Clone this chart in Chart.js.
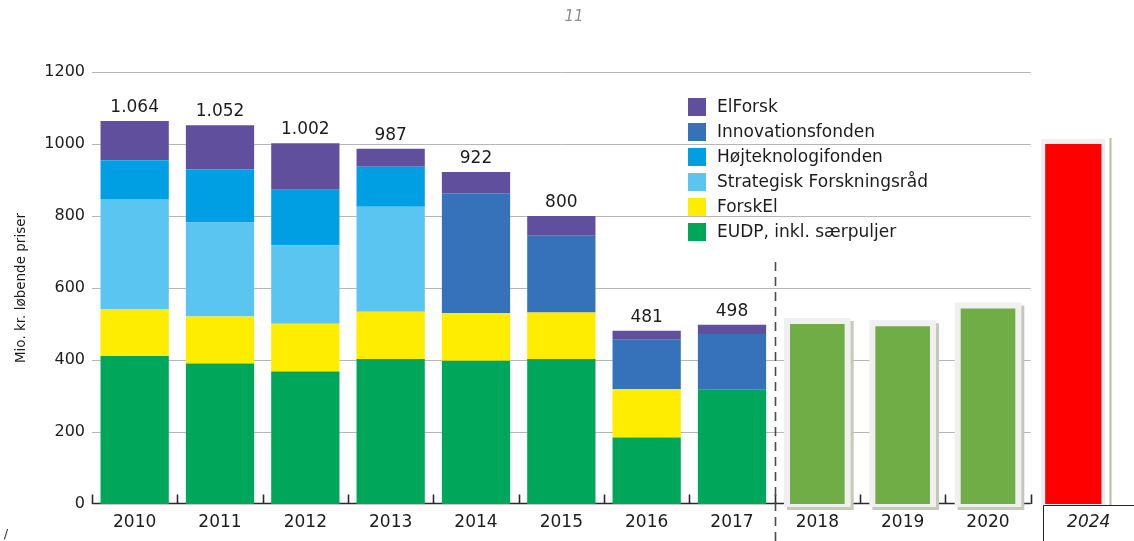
<!DOCTYPE html>
<html>
<head>
<meta charset="utf-8">
<script src="https://cdn.jsdelivr.net/npm/chart.js@4.4.1/dist/chart.umd.min.js"></script>
<style>
html,body{margin:0;padding:0;background:#fff;}
#wrap{position:relative;width:1134px;height:541px;}
canvas{display:block;}
</style>
</head>
<body>
<div id="wrap"><canvas id="c" width="1134" height="541"></canvas></div>
<script>
// ---- data ----
const years = ['2010','2011','2012','2013','2014','2015','2016','2017','2018','2019','2020','2024'];
const eudp        = [411, 390, 368, 403, 398, 403, 185, 319, null, null, null, null];
const forskEl     = [131, 131, 133, 131, 132, 129, 134, null, null, null, null, null];
const strategisk  = [305, 261, 218, 292, null, null, null, null, null, null, null, null];
const hoejtek     = [108, 148, 154, 111, null, null, null, null, null, null, null, null];
const innovation  = [null, null, null, null, 333, 213, 137, 153, null, null, null, null];
const elForsk     = [109, 122, 129, 50, 59, 55, 25, 26, null, null, null, null];
const prognosis   = [null, null, null, null, null, null, null, null, 500, 494, 543, null];
const target2024  = [null, null, null, null, null, null, null, null, null, null, null, 1000];
const yTicks      = [0, 200, 400, 600, 800, 1000, 1200];
const yTitle      = 'Mio. kr. løbende priser';
const pageNo      = '11';

const FONT = "'DejaVu Sans', 'Liberation Sans', sans-serif";
const TXT = '#1c1c1c';

const stackSeries = [
  {label:'EUDP, inkl. særpuljer', data:eudp, color:'#00a65a'},
  {label:'ForskEl', data:forskEl, color:'#ffed00'},
  {label:'Strategisk Forskningsråd', data:strategisk, color:'#5bc5f2'},
  {label:'Højteknologifonden', data:hoejtek, color:'#009fe3'},
  {label:'Innovationsfonden', data:innovation, color:'#3672b9'},
  {label:'ElForsk', data:elForsk, color:'#5f4f9d'}
];
const legendOrder = [5,4,3,2,1,0];

function fmtDa(n){
  if (n >= 1000) return Math.floor(n/1000) + '.' + String(n % 1000).padStart(3,'0');
  return String(n);
}

const datasets = stackSeries.map(s => ({
  label: s.label, data: s.data, backgroundColor: s.color, stack: 'all',
  barPercentage: 0.8, categoryPercentage: 1.0, borderWidth: 0
}));
datasets.push({label:'prognose', data: prognosis, backgroundColor:'#70ad47', stack:'all',
  barPercentage: 0.64, categoryPercentage: 1.0, borderWidth: 0});
datasets.push({label:'2024', data: target2024, backgroundColor:'#ff0000', stack:'all',
  barPercentage: 0.66, categoryPercentage: 1.0, borderWidth: 0});
const PROG = 6, RED = 7;

function boundary(x, k){
  const catW = x.getPixelForValue(1) - x.getPixelForValue(0);
  return x.getPixelForValue(0) - catW/2 + k*catW;
}

const overlay = {
  id: 'overlay',
  beforeDatasetsDraw(chart){
    const {ctx, scales:{x, y}} = chart;
    const left = boundary(x, 0), gridEnd = boundary(x, 11);
    ctx.save();
    ctx.strokeStyle = '#b6b6b6'; ctx.lineWidth = 1;
    yTicks.forEach(v => {
      if (v === 0) return;
      const py = Math.round(y.getPixelForValue(v)) + 0.5;
      ctx.beginPath(); ctx.moveTo(left, py); ctx.lineTo(gridEnd, py); ctx.stroke();
    });
    const y0 = Math.round(y.getPixelForValue(0)) - 0.5;
    ctx.strokeStyle = '#2a2a2a'; ctx.lineWidth = 1.6;
    ctx.beginPath(); ctx.moveTo(left, y0); ctx.lineTo(gridEnd, y0); ctx.stroke();
    for (let k = 0; k <= 11; k++){
      const bx = Math.round(boundary(x, k)) + 0.5;
      ctx.beginPath(); ctx.moveTo(bx, y0 - 9); ctx.lineTo(bx, y0 + 0.5); ctx.stroke();
    }
    ctx.restore();
  },
  beforeDatasetDraw(chart, args){
    const ctx = chart.ctx;
    if (args.index !== PROG && args.index !== RED) return;
    const meta = chart.getDatasetMeta(args.index);
    ctx.save();
    meta.data.forEach((el, i) => {
      const v = chart.data.datasets[args.index].data[i];
      if (v === null || v === undefined) return;
      const p = el.getProps(['x','y','base','width'], true);
      const l = p.x - p.width/2, r = p.x + p.width/2;
      if (args.index === PROG){
        ctx.fillStyle = '#c3cab9';
        ctx.fillRect(l - 6 + 3, p.y - 6 + 3, p.width + 12, p.base - p.y + 9);
        ctx.fillStyle = '#f0f0f0';
        ctx.fillRect(l - 6, p.y - 6, p.width + 12, p.base - p.y + 9);
      } else {
        ctx.fillStyle = '#efefef';
        ctx.fillRect(l - 4, p.y - 5, p.width + 8, p.base - p.y + 7);
        ctx.fillStyle = '#b4bda8';
        ctx.fillRect(r + 8, p.y - 6, 2, p.base - p.y + 8);
      }
    });
    ctx.restore();
  },
  afterDatasetsDraw(chart){
    const {ctx, scales:{x, y}} = chart;
    ctx.save();
    // totals
    ctx.font = '17px ' + FONT; ctx.fillStyle = TXT;
    ctx.textAlign = 'center'; ctx.textBaseline = 'alphabetic';
    for (let i = 0; i < 8; i++){
      let tot = 0;
      stackSeries.forEach(s => { tot += (s.data[i] || 0); });
      ctx.fillText(fmtDa(tot), x.getPixelForValue(i), y.getPixelForValue(tot) - 9);
    }
    // dashed separator
    const dx = Math.round(boundary(x, 8)) + 0.5;
    ctx.strokeStyle = '#4a4a4a'; ctx.lineWidth = 1.6; ctx.setLineDash([9, 6]);
    ctx.beginPath(); ctx.moveTo(dx, y.getPixelForValue(672)); ctx.lineTo(dx, chart.height); ctx.stroke();
    ctx.setLineDash([]);
    ctx.restore();
  },
  afterDraw(chart){
    const {ctx, scales:{x, y}} = chart;
    ctx.save();
    // legend
    ctx.font = '17px ' + FONT; ctx.textAlign = 'left'; ctx.textBaseline = 'middle';
    legendOrder.forEach((si, r) => {
      const cy = 107 + r * 24.9;
      ctx.fillStyle = stackSeries[si].color;
      ctx.fillRect(688, Math.round(cy - 9), 18, 18);
      ctx.fillStyle = TXT;
      ctx.fillText(stackSeries[si].label, 717, cy + 1);
    });
    // 2024 label box
    const redEl = chart.getDatasetMeta(RED).data[11];
    const rp = redEl.getProps(['x','width'], true);
    const bl = Math.round(rp.x - rp.width/2) - 1.5;
    const bt = Math.round(y.getPixelForValue(0)) + 1.5;
    ctx.strokeStyle = '#222'; ctx.lineWidth = 1;
    ctx.beginPath(); ctx.moveTo(bl, chart.height); ctx.lineTo(bl, bt); ctx.lineTo(chart.width, bt); ctx.stroke();
    ctx.font = 'italic 17px ' + FONT; ctx.textAlign = 'center'; ctx.fillStyle = TXT;
    ctx.fillText(years[11], (bl + chart.width)/2, 523);
    // page number
    ctx.font = 'italic 15px ' + FONT; ctx.fillStyle = '#8e8e8e';
    ctx.fillText(pageNo, 574, 17);
    ctx.font = '13px ' + FONT; ctx.fillStyle = '#333';
    ctx.fillText('/', 6, 535);
    ctx.restore();
  }
};

new Chart(document.getElementById('c'), {
  type: 'bar',
  data: { labels: years, datasets },
  options: {
    responsive: false, animation: false, devicePixelRatio: 1,
    layout: { padding: { top: 72, right: 18, left: 0, bottom: 0 } },
    plugins: { legend: { display: false }, tooltip: { enabled: false } },
    scales: {
      x: {
        stacked: true,
        grid: { display: false, drawTicks: false }, border: { display: false },
        ticks: {
          color: TXT, font: { family: FONT, size: 17 }, padding: 8, maxRotation: 0, autoSkip: false,
          callback: (v, i) => i === 11 ? '' : years[i]
        },
        afterFit: s => { s.height = 37; }
      },
      y: {
        stacked: true, min: 0, max: 1200,
        grid: { display: false, drawTicks: false }, border: { display: false },
        ticks: { stepSize: 200, color: TXT, font: { family: FONT, size: 16 }, padding: 7,
          callback: v => yTicks.includes(v) ? String(v) : '' },
        title: { display: true, text: yTitle, color: TXT, font: { family: FONT, size: 13.5 }, padding: { top: 13, bottom: 0 } },
        afterFit: s => { s.width = 92; }
      }
    }
  },
  plugins: [overlay]
});
</script>
</body>
</html>
